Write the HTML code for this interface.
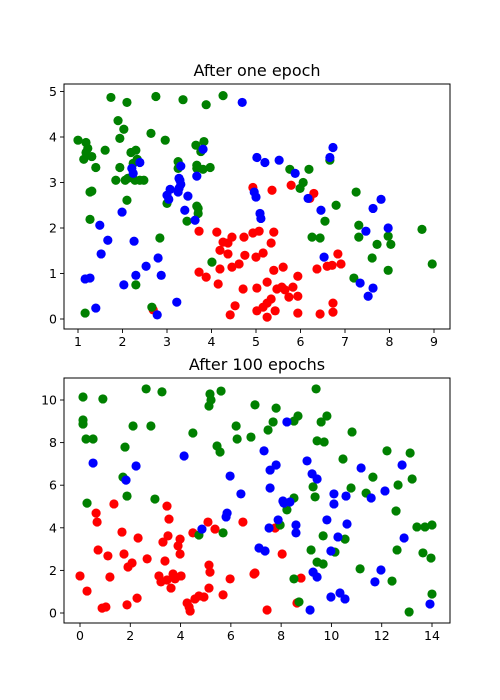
<!DOCTYPE html>
<html><head><meta charset="utf-8"><style>
body{margin:0;background:#fff;}
svg{display:block;font-family:"DejaVu Sans","Liberation Sans",sans-serif;}
</style></head><body>
<svg id="fig" width="500" height="700" viewBox="0 0 500 700"></svg>
<script>
// ---- Chart 1: After one epoch ----
const epoch1Red = [[3.72,1.93],[4.12,1.91],[4.46,1.80],[4.73,1.80],[4.93,1.89],[4.26,1.69],[4.37,1.67],[4.19,1.51],[4.37,1.43],[4.75,1.40],[5.00,1.36],[3.72,1.03],[3.88,0.92],[4.19,1.10],[4.46,1.14],[4.62,1.21],[4.15,0.77],[4.71,0.66],[5.02,0.68],[4.53,0.29],[4.42,0.09],[5.02,0.18],[2.69,0.20],[5.07,1.93],[5.40,1.91],[5.34,1.67],[5.16,1.45],[5.40,1.07],[5.61,1.14],[5.94,0.94],[6.37,1.10],[6.60,1.16],[6.71,1.18],[6.91,1.21],[6.84,1.43],[5.25,0.81],[5.47,0.66],[5.58,0.70],[5.65,0.64],[5.83,0.70],[5.74,0.48],[5.94,0.50],[5.34,0.44],[5.25,0.35],[5.16,0.26],[5.43,0.18],[5.25,0.04],[5.94,0.13],[6.44,0.11],[6.73,0.35],[6.73,0.15],[5.36,2.83],[5.79,2.94],[6.30,2.76],[6.21,2.65],[4.93,2.89]];
const epoch1Green = [[1.74,4.87],[2.10,4.76],[2.75,4.89],[3.36,4.82],[3.88,4.71],[4.26,4.91],[1.90,4.36],[2.03,4.17],[1.94,3.97],[2.64,4.08],[2.96,3.93],[3.83,3.90],[1.00,3.93],[1.18,3.88],[1.22,3.75],[1.18,3.66],[1.13,3.51],[1.31,3.57],[1.61,3.71],[2.30,3.71],[2.19,3.66],[2.33,3.51],[2.24,3.42],[3.65,3.82],[3.76,3.68],[3.67,3.38],[1.40,3.33],[1.94,3.33],[1.85,3.05],[2.06,3.05],[2.28,3.05],[2.12,3.09],[2.39,3.05],[2.48,3.05],[3.25,3.46],[3.25,3.31],[3.67,3.31],[3.97,3.33],[3.81,3.29],[1.27,2.79],[1.31,2.81],[3.00,2.54],[3.70,2.43],[1.27,2.19],[2.10,2.61],[3.67,2.48],[3.70,2.32],[3.45,2.15],[2.84,1.78],[4.01,1.25],[2.30,0.75],[2.66,0.26],[1.16,0.13],[5.76,3.29],[6.19,3.29],[6.06,3.00],[5.99,2.87],[7.25,2.79],[6.80,2.50],[6.66,3.49],[6.55,2.15],[6.44,1.78],[6.26,1.80],[7.31,2.06],[7.31,1.80],[7.72,1.64],[7.61,1.34],[7.97,1.82],[8.03,1.64],[8.73,1.97],[8.96,1.21],[7.97,1.07],[7.20,0.90]];
const epoch1Blue = [[4.69,4.76],[3.81,3.73],[2.39,3.44],[2.21,3.31],[2.24,3.20],[3.31,3.36],[3.27,3.09],[3.31,2.96],[3.27,2.87],[3.25,2.79],[3.29,3.05],[3.07,2.85],[3.00,2.72],[3.04,2.63],[3.67,3.14],[3.47,2.70],[3.40,2.39],[5.02,3.55],[5.20,3.44],[5.52,3.49],[6.73,3.77],[6.66,3.55],[5.88,3.20],[4.96,2.79],[5.00,2.68],[6.17,2.65],[6.46,2.39],[7.63,2.43],[7.81,2.63],[5.09,2.32],[5.11,2.21],[7.97,2.00],[7.47,1.93],[6.53,1.36],[7.34,0.79],[7.63,0.68],[7.52,0.50],[1.99,2.35],[1.49,2.06],[1.67,1.73],[2.26,1.71],[1.52,1.43],[2.80,1.34],[2.53,1.16],[2.87,0.96],[2.30,0.96],[2.03,0.75],[1.16,0.88],[1.27,0.90],[3.22,0.37],[1.40,0.24],[2.78,0.09],[3.63,2.17]];
const epoch1XTicks = [1,2,3,4,5,6,7,8,9];
const epoch1YTicks = [0,1,2,3,4,5];

// ---- Chart 2: After 100 epochs ----
const epoch100Red = [[1.35,5.12],[3.46,5.02],[0.64,4.69],[0.68,4.27],[3.54,4.41],[5.09,4.27],[5.37,3.94],[6.48,4.27],[4.49,3.76],[1.67,3.80],[2.31,3.52],[3.50,3.62],[3.30,3.33],[3.98,3.47],[3.90,3.15],[3.98,2.77],[0.72,2.96],[1.11,2.68],[1.75,2.77],[2.67,2.54],[3.38,2.44],[2.07,2.35],[1.91,2.16],[5.13,2.25],[5.17,1.92],[0.00,1.74],[1.19,1.69],[3.14,1.74],[3.70,1.83],[4.02,1.74],[3.22,1.46],[3.46,1.55],[3.78,1.60],[3.62,1.17],[5.97,1.60],[6.92,1.83],[5.13,1.17],[0.28,1.03],[5.69,0.85],[4.93,0.75],[4.73,0.80],[4.57,0.66],[4.26,0.47],[4.34,0.28],[4.38,0.09],[2.27,0.70],[1.87,0.38],[1.03,0.28],[0.88,0.23],[7.76,3.99],[8.04,2.77],[6.96,1.88],[8.79,1.64],[8.63,0.47],[7.44,0.14]];
const epoch100Green = [[2.63,10.52],[3.26,10.38],[5.17,10.28],[5.61,10.42],[5.21,10.00],[5.13,9.72],[6.96,9.77],[0.12,10.14],[0.91,10.05],[0.12,9.06],[0.12,8.87],[2.11,8.78],[2.82,8.78],[4.49,8.45],[6.21,8.78],[6.25,8.17],[6.80,8.26],[0.24,8.17],[0.52,8.17],[1.79,7.79],[5.45,7.84],[5.57,7.56],[1.71,6.38],[1.87,5.49],[2.98,5.35],[0.28,5.16],[9.39,10.52],[7.80,9.62],[7.68,8.97],[7.48,8.59],[8.51,9.01],[8.67,9.25],[9.59,8.97],[9.82,9.25],[10.82,8.50],[9.43,8.08],[9.71,8.03],[12.21,7.61],[13.13,7.51],[10.46,7.23],[11.65,6.38],[13.21,6.29],[12.65,6.01],[9.27,5.92],[10.78,5.87],[11.38,5.63],[9.35,5.45],[8.51,5.40],[4.73,3.66],[5.69,3.76],[8.23,4.84],[7.96,4.13],[9.67,3.62],[10.54,3.47],[9.19,2.96],[10.14,2.86],[9.43,2.39],[9.67,2.30],[11.14,2.07],[12.41,1.50],[8.51,1.60],[8.71,0.52],[12.57,4.79],[13.40,4.04],[13.72,4.04],[14.00,4.13],[12.61,2.96],[13.64,2.82],[13.96,2.58],[14.00,0.89],[13.09,0.05]];
const epoch100Blue = [[0.52,7.04],[2.23,6.90],[4.14,7.37],[1.83,6.24],[5.97,6.43],[6.40,5.59],[8.23,8.97],[7.32,7.61],[9.03,7.14],[7.80,6.95],[7.56,6.71],[9.23,6.53],[9.43,6.29],[11.18,6.81],[12.81,6.95],[7.56,5.87],[10.10,5.59],[10.58,5.49],[11.58,5.40],[12.13,5.73],[8.07,5.26],[8.35,5.21],[10.10,5.12],[5.85,4.69],[5.81,4.51],[4.85,3.94],[7.12,3.05],[8.11,5.16],[7.88,4.37],[7.52,3.99],[8.59,4.13],[8.59,3.76],[9.82,4.37],[10.62,4.18],[10.26,3.57],[12.89,3.52],[7.36,2.91],[9.98,2.91],[9.27,1.92],[9.43,1.69],[11.97,2.02],[11.73,1.46],[9.98,0.75],[10.34,0.94],[10.54,0.66],[9.15,0.14],[13.92,0.42]];
const epoch100XTicks = [0,2,4,6,8,10,12,14];
const epoch100YTicks = [0,2,4,6,8,10];

const NS = "http://www.w3.org/2000/svg";
const svg = document.getElementById('fig');
function mk(tag, attrs, parent){
  const e = document.createElementNS(NS, tag);
  for (const k in attrs) e.setAttribute(k, attrs[k]);
  (parent||svg).appendChild(e);
  return e;
}
function drawChart(cfg){
  const g = mk('g', {});
  
  
  const L=cfg.box[0], T=cfg.box[1], R=cfg.box[2], B=cfg.box[3];
  const xs = v => cfg.px0 + (v - cfg.xv0) * (cfg.px1 - cfg.px0) / (cfg.xv1 - cfg.xv0);
  const ys = v => cfg.py0 + (v - cfg.yv0) * (cfg.py1 - cfg.py0) / (cfg.yv1 - cfg.yv0);
  const series = [[cfg.red,'#ff0000','red'],[cfg.green,'#008000','green'],[cfg.blue,'#0000ff','blue']];
  series.forEach(s => {
    const sg = mk('g', {}, g);
    
    
    s[0].forEach(p => {
      const c = mk('circle', {cx: xs(p[0]), cy: ys(p[1]), r: 4.6, fill: s[1]}, sg);
      
      
    });
  });
  const frame = mk('rect', {x:L, y:T, width:R-L, height:B-T, fill:'none', stroke:'#000', 'stroke-width':1}, g);
  
  
  cfg.xt.forEach(t => {
    const x = xs(t);
    mk('line', {x1:x, x2:x, y1:B, y2:B+4, stroke:'#000', 'stroke-width':0.9}, g);
    const tx = mk('text', {x:x, y:B+17, 'text-anchor':'middle', 'font-size':12.5, fill:'#000'}, g);
    tx.textContent = t;
    
    
  });
  cfg.yt.forEach(t => {
    const y = ys(t);
    mk('line', {x1:L-4, x2:L, y1:y, y2:y, stroke:'#000', 'stroke-width':0.9}, g);
    const ty = mk('text', {x:L-7, y:y+4.5, 'text-anchor':'end', 'font-size':12.5, fill:'#000'}, g);
    ty.textContent = t;
    
    
  });
  const title = mk('text', {x:(L+R)/2, y:T-8, 'text-anchor':'middle', 'font-size':16, fill:'#000'}, g);
  title.textContent = cfg.title;
  
  
}
drawChart({name:'chart-after-one-epoch', title:'After one epoch', box:[64,84,450,329],
  xv0:1, xv1:9, px0:78, px1:434, yv0:0, yv1:5, py0:319, py1:91.5,
  red:epoch1Red, green:epoch1Green, blue:epoch1Blue, xt:epoch1XTicks, yt:epoch1YTicks});
drawChart({name:'chart-after-100-epochs', title:'After 100 epochs', box:[64,378,450,623],
  xv0:0, xv1:14, px0:80, px1:432, yv0:0, yv1:10, py0:613, py1:400,
  red:epoch100Red, green:epoch100Green, blue:epoch100Blue, xt:epoch100XTicks, yt:epoch100YTicks});
</script>
</body></html>
